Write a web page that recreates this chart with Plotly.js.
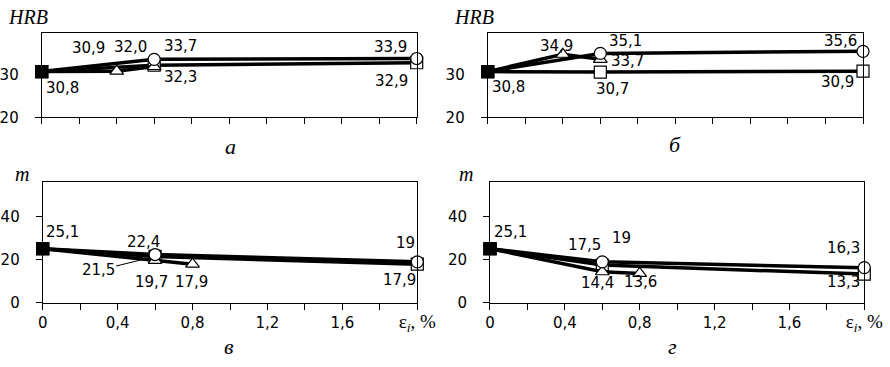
<!DOCTYPE html>
<html><head><meta charset="utf-8">
<script src="https://cdn.plot.ly/plotly-3.0.1.min.js"></script>
<style>html,body{margin:0;padding:0;background:#fff}#chart{width:890px;height:367px}</style>
</head><body><div id="chart"></div>
<script>
// ---------------- DATA ----------------
// x axis: strain εi, %  (labelled ticks every 0.4, minor ticks every 0.2)
const xTickVals = [0, 0.4, 0.8, 1.2, 1.6, 2.0];
const xTickText = ['0', '0,4', '0,8', '1,2', '1,6',
  '<span style="font-family:Liberation Serif,serif;font-size:19px">ε<sub><i>i</i></sub>, %</span>'];
const xMinorVals = [0.2, 0.6, 1.0, 1.4, 1.8];
const hrbTickVals = [20, 30], hrbTickText = ['20', '30'];
const mTickVals = [0, 20, 40], mTickText = ['0', '20', '40'];

// Panel а (HRB)
const xA_sq = [0, 0.6, 2.0],   yA_sq = [30.8, 32.3, 32.9],   tA_sq = ['30,8', '32,3', '32,9'];
const xA_tri = [0, 0.4, 0.6],  yA_tri = [30.8, 30.9, 32.0],  tA_tri = ['', '30,9', '32,0'];
const xA_circ = [0, 0.6, 2.0], yA_circ = [30.8, 33.7, 33.9], tA_circ = ['', '33,7', '33,9'];
// Panel б (HRB)
const xB_sq = [0, 0.6, 2.0],   yB_sq = [30.8, 30.7, 30.9],   tB_sq = ['30,8', '30,7', '30,9'];
const xB_tri = [0, 0.4, 0.6],  yB_tri = [30.8, 34.9, 33.7],  tB_tri = ['', '34,9', '33,7'];
const xB_circ = [0, 0.6, 2.0], yB_circ = [30.8, 35.1, 35.6], tB_circ = ['', '35,1', '35,6'];
// Panel в (m)
const xC_sq = [0, 0.6, 2.0],   yC_sq = [25.1, 21.5, 17.9],   tC_sq = ['25,1', '21,5', '17,9'];
const xC_tri = [0, 0.6, 0.8],  yC_tri = [25.1, 19.7, 17.9],  tC_tri = ['', '19,7', '17,9'];
const xC_circ = [0, 0.6, 2.0], yC_circ = [25.1, 22.4, 19],   tC_circ = ['', '22,4', '19'];
// Panel г (m)
const xD_sq = [0, 0.6, 2.0],   yD_sq = [25.1, 17.5, 13.3],   tD_sq = ['25,1', '17,5', '13,3'];
const xD_tri = [0, 0.6, 0.8],  yD_tri = [25.1, 14.4, 13.6],  tD_tri = ['', '14,4', '13,6'];
const xD_circ = [0, 0.6, 2.0], yD_circ = [25.1, 19, 16.3],   tD_circ = ['', '19', '16,3'];

// ---------------- STYLE ----------------
const SANS = 'DejaVu Sans';
const SERIF = 'Liberation Serif';
// label offsets in px [dx right, dy up, arrow?]
const offA = {sq: [[21,-16],[26,-12],[-25,-18]], tri: [null,[-28,23],[-24,19.5]], circ: [null,[26,13.5],[-26,11]]};
const offB = {sq: [[21,-15],[12,-17],[-26,-10.5]], tri: [null,[-6,8],[27,-2]], circ: [null,[25,12],[-23,10]]};
const offC = {sq: [[20,17],[-57,-14,true],[-18,-16]], tri: [null,[-4,-22],[-1,-18]], circ: [null,[-11.6,13],[-11.6,19]]};
const offD = {sq: [[21,17],[-18,20],[-21,-7.5]], tri: [null,[-5,-11],[1,-9]], circ: [null,[19,24],[-21,20]]};

const symbolOf = {sq: 'square', tri: 'triangle-up', circ: 'circle'};

const panels = [
  {xa: 'x',  ya: 'y',  off: offA, s: {sq: [xA_sq, yA_sq, tA_sq], tri: [xA_tri, yA_tri, tA_tri], circ: [xA_circ, yA_circ, tA_circ]}},
  {xa: 'x2', ya: 'y2', off: offB, s: {sq: [xB_sq, yB_sq, tB_sq], tri: [xB_tri, yB_tri, tB_tri], circ: [xB_circ, yB_circ, tB_circ]}},
  {xa: 'x3', ya: 'y3', off: offC, s: {sq: [xC_sq, yC_sq, tC_sq], tri: [xC_tri, yC_tri, tC_tri], circ: [xC_circ, yC_circ, tC_circ]}},
  {xa: 'x4', ya: 'y4', off: offD, s: {sq: [xD_sq, yD_sq, tD_sq], tri: [xD_tri, yD_tri, tD_tri], circ: [xD_circ, yD_circ, tD_circ]}},
];

const traces = [];
const annotations = [];
panels.forEach(p => {
  ['sq', 'tri', 'circ'].forEach(k => {
    const [xs, ys, ts] = p.s[k];
    traces.push({
      type: 'scatter', mode: 'lines+markers', x: xs, y: ys, xaxis: p.xa, yaxis: p.ya,
      cliponaxis: false, showlegend: false, hoverinfo: 'skip',
      line: {color: '#000', width: 3.5},
      marker: {
        symbol: xs.map((v, i) => i === 0 ? 'square' : symbolOf[k]),
        size: xs.map((v, i) => i === 0 ? 12 : 12),
        color: xs.map((v, i) => i === 0 ? 'rgb(0,0,0)' : 'rgb(255,255,255)'),
        opacity: 1,
        line: {color: '#000', width: 1.2}
      }
    });
    ts.forEach((t, i) => {
      if (!t) return;
      const o = p.off[k][i];
      const a = {x: xs[i], y: ys[i], xref: p.xa, yref: p.ya, text: t,
        font: {family: SANS, size: 15, color: '#000'}};
      if (o[2]) {
        Object.assign(a, {showarrow: true, ax: o[0], ay: -o[1], arrowhead: 0, arrowwidth: 1,
          arrowcolor: '#000', standoff: 6});
      } else {
        Object.assign(a, {showarrow: false, xanchor: 'center', yanchor: 'middle', xshift: o[0], yshift: o[1]});
      }
      annotations.push(a);
    });
  });
});

function paperLabel(text, px, py, size) {
  return {xref: 'paper', yref: 'paper', x: px / 890, y: 1 - py / 367, text: text, showarrow: false,
    xanchor: 'center', yanchor: 'middle', font: {family: SERIF, size: size, color: '#000'}};
}
annotations.push(paperLabel('<i>HRB</i>', 28, 17, 20));
annotations.push(paperLabel('<i>HRB</i>', 474, 17, 20));
annotations.push(paperLabel('<i>m</i>', 22, 174, 20));
annotations.push(paperLabel('<i>m</i>', 466, 174, 20));
annotations.push(paperLabel('<i>а</i>', 230, 146, 22));
annotations.push(paperLabel('<i>б</i>', 675, 145, 22));
annotations.push(paperLabel('<i>в</i>', 229, 346, 22));
annotations.push(paperLabel('<i>г</i>', 672, 346, 22));

function xax(domain, anchor, showLabels) {
  return {domain: domain, anchor: anchor, range: [0, 2.0], tickmode: 'array', tickvals: xTickVals,
    ticktext: xTickText, showticklabels: showLabels, ticks: 'outside', ticklen: 6, tickcolor: '#000',
    tickwidth: 1, showline: true, mirror: true, linecolor: '#000', linewidth: 1, showgrid: false,
    minor: {tickmode: 'array', tickvals: xMinorVals, ticks: 'outside', ticklen: 6, tickcolor: '#000', tickwidth: 1, showgrid: false},
    zeroline: false, tickfont: {family: SANS, size: 15, color: '#000'}, fixedrange: true};
}
function yax(domain, anchor, range, tv, tt) {
  return {domain: domain, anchor: anchor, range: range, tickmode: 'array', tickvals: tv, ticktext: tt,
    ticks: 'outside', ticklen: 6, tickcolor: '#000', tickwidth: 1, showline: true, mirror: true,
    linecolor: '#000', linewidth: 1, showgrid: false, zeroline: false, ticklabelstandoff: 13,
    tickfont: {family: SANS, size: 15, color: '#000'}, fixedrange: true};
}

const row1 = [0.6804, 0.9109], row2 = [0.1752, 0.5033];
const layout = {
  width: 890, height: 367, margin: {l: 0, r: 0, t: 0, b: 0},
  paper_bgcolor: '#fff', plot_bgcolor: '#fff', showlegend: false,
  xaxis: xax([0.04685, 0.46820], 'y', false),
  yaxis: yax(row1, 'x', [20, 40], hrbTickVals, hrbTickText),
  xaxis2: xax([0.54798, 0.96966], 'y2', false),
  yaxis2: yax(row1, 'x2', [20, 40], hrbTickVals, hrbTickText),
  xaxis3: xax([0.04798, 0.46888], 'y3', true),
  yaxis3: yax(row2, 'x3', [0, 56], mTickVals, mTickText),
  xaxis4: xax([0.55056, 0.97112], 'y4', true),
  yaxis4: yax(row2, 'x4', [0, 56], mTickVals, mTickText),
  annotations: annotations
};
Plotly.newPlot('chart', traces, layout, {staticPlot: true, displayModeBar: false});
</script></body></html>
